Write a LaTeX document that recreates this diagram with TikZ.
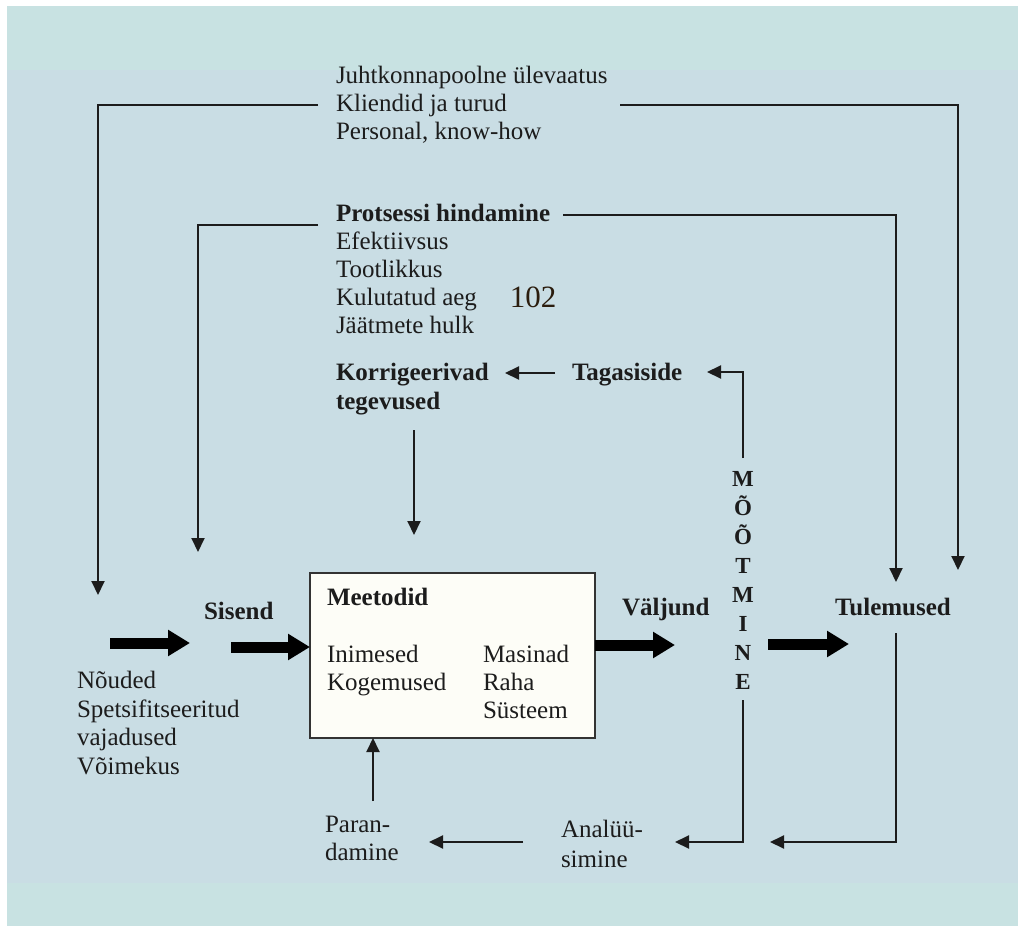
\documentclass[tikz,border=0pt]{standalone}
\usepackage{fontspec}
\setmainfont{Liberation Serif}
\usetikzlibrary{arrows.meta}
\definecolor{mainc}{HTML}{C9DDE4}
\definecolor{bandc}{HTML}{C8E2E2}
\definecolor{boxc}{HTML}{FDFDF7}
\definecolor{txtc}{HTML}{1C1C1C}
\definecolor{numc}{HTML}{2B1D0E}
\begin{document}
\begin{tikzpicture}[x=0.5pt,y=-0.5pt,
  txt/.style={font=\fontsize{12.5}{14}\selectfont, inner sep=0pt, outer sep=0pt, text=txtc, align=left},
  bld/.style={font=\fontsize{12.5}{14}\selectfont\bfseries, inner sep=0pt, outer sep=0pt, text=txtc, align=left},
  conn/.style={line width=1pt, draw=txtc, -{Triangle[length=7pt,width=6.5pt]}},
  fat/.style={line width=5.5pt, draw=black, -{Triangle[length=11pt,width=12.5pt]}},
  boxst/.style={draw=black!80, line width=0.75pt, fill=boxc, inner sep=0pt, outer sep=0pt}]
\useasboundingbox (0,0) rectangle (1018,926);
\fill[white] (0,0) rectangle (1018,926);
\fill[bandc] (7,6) rectangle (1018,70);
\fill[mainc] (7,70) rectangle (1018,883);
\fill[bandc] (7,883) rectangle (1018,926);

% box
\node[boxst, minimum width=142.5pt, minimum height=82.5pt, anchor=north west] (box) at (310,573) {};

% texts
\node[txt, anchor=north west] (juht) at (336,66) {Juhtkonnapoolne ülevaatus\\Kliendid ja turud\\Personal, know-how};
\node[txt, anchor=north west] (prot) at (336,204) {\textbf{Protsessi hindamine}\\Efektiivsus\\Tootlikkus\\Kulutatud aeg\\Jäätmete hulk};
\node[inner sep=0pt, text=numc, font=\fontsize{15.5}{17}\selectfont] (num) at (533,297) {102};
\node[bld, anchor=north west, font=\fontsize{12.5}{14.5}\selectfont\bfseries] (korr) at (336,363) {Korrigeerivad\\tegevused};
\node[bld, anchor=base west] (taga) at (572,380) {Tagasiside};
\node[bld, anchor=north, align=center, font=\fontsize{11.5}{14.5}\selectfont\bfseries] (moot) at (743,471) {M\\Õ\\Õ\\T\\M\\I\\N\\E};
\node[bld, anchor=base west] (meet) at (327,605) {Meetodid};
\node[txt, anchor=north west] (inim) at (327,645) {Inimesed\\Kogemused};
\node[txt, anchor=north west] (masi) at (483,645) {Masinad\\Raha\\Süsteem};
\node[bld, anchor=base west] (sis) at (204,619) {Sisend};
\node[bld, anchor=base west] (val) at (622,615) {Väljund};
\node[bld, anchor=base west] (tul) at (835,615) {Tulemused};
\node[txt, anchor=north west, font=\fontsize{12.5}{14.4}\selectfont] (noud) at (77,671) {Nõuded\\Spetsifitseeritud\\vajadused\\Võimekus};
\node[txt, anchor=north west] (para) at (325,816) {Paran-\\damine};
\node[txt, anchor=north west, font=\fontsize{12.5}{15}\selectfont] (anal) at (561,820) {Analüü-\\simine};

% coordinates
\coordinate (jL) at (318,105);
\coordinate (jLe) at (98,595);
\coordinate (jR) at (620,105);
\coordinate (jRe) at (958,570);
\coordinate (pL) at (318,225);
\coordinate (pLe) at (198,552);
\coordinate (pR) at (563,215);
\coordinate (pRe) at (896,582);
\coordinate (kS) at (414,430);
\coordinate (kE) at (414,535);
\coordinate (tS) at (555,373);
\coordinate (tE) at (505,373);
\coordinate (mT) at (743,458);
\coordinate (mTe) at (707,372);
\coordinate (mB) at (743,700);
\coordinate (mBe) at (675,842);
\coordinate (uB) at (896,633);
\coordinate (uBe) at (770,842);
\coordinate (aS) at (523,842);
\coordinate (aE) at (429,842);
\coordinate (rS) at (373,801);
\coordinate (f1s) at (110,643);
\coordinate (f1e) at (190,643);
\coordinate (f2s) at (231,647);
\coordinate (f4s) at (768,644);
\coordinate (f4e) at (849,644);

% connectors
\draw[conn] (jL) -- (jLe |- jL) -- (jLe);
\draw[conn] (jR) -- (jRe |- jR) -- (jRe);
\draw[conn] (pL) -- (pLe |- pL) -- (pLe);
\draw[conn] (pR) -- (pRe |- pR) -- (pRe);
\draw[conn] (kS) -- (kE);
\draw[conn] (tS) -- (tE);
\draw[conn] (mT) -- (mT |- mTe) -- (mTe);
\draw[conn] (mB) -- (mB |- mBe) -- (mBe);
\draw[conn] (uB) -- (uB |- uBe) -- (uBe);
\draw[conn] (aS) -- (aE);
\draw[conn] (rS) -- (rS |- box.south);

% fat arrows
\draw[fat] (f1s) -- (f1e);
\draw[fat] (f2s) -- (f2s -| box.west);
\draw[fat] (box.east |- 0,645) -- (675,645);
\draw[fat] (f4s) -- (f4e);
\end{tikzpicture}
\end{document}
